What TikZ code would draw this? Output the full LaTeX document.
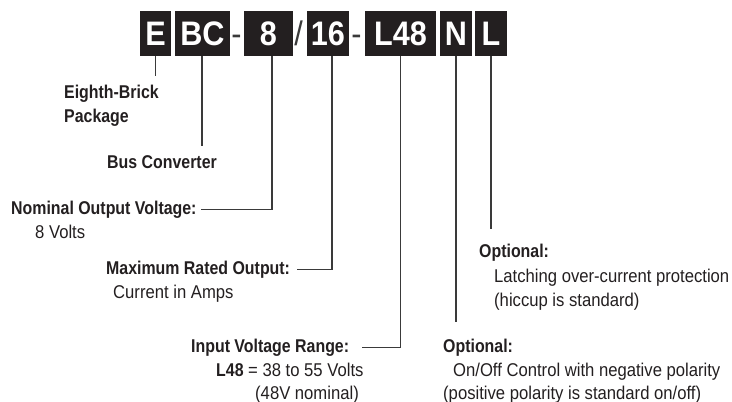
\documentclass[tikz,border=0pt]{standalone}
\usepackage{fontspec}
\setmainfont{Liberation Sans}
\newfontfamily\headfont[FakeStretch=0.86]{Liberation Sans}
\newfontfamily\bodyfont[FakeStretch=0.9]{Liberation Sans}
\newfontfamily\codefont[FakeStretch=0.9]{Liberation Sans}
\definecolor{ink}{HTML}{231F20}
\definecolor{leadgray}{HTML}{3A3A3A}

\begin{document}
\begin{tikzpicture}[x=1pt, y=-1pt,
    codebox/.style={fill=ink, text=white, minimum height=45pt, inner sep=0,
      font=\codefont\bfseries\fontsize{34}{36}\selectfont},
    sepmark/.style={anchor=base, inner sep=0, text=leadgray,
      font=\codefont\fontsize{34}{36}\selectfont},
    headtext/.style={anchor=base west, inner sep=0, text=ink,
      font=\headfont\bfseries\fontsize{18.5}{24}\selectfont},
    bodytext/.style={anchor=base west, inner sep=0, text=ink,
      font=\bodyfont\fontsize{18.5}{24}\selectfont},
    lead/.style={draw=leadgray, line width=1.2pt}]

  \useasboundingbox (0,0) rectangle (732,402);

  % Part number boxes
  \node[codebox, minimum width=31pt] (boxE)   at (155.5,33.5) {E};
  \node[codebox, minimum width=55pt] (boxBC)  at (202.5,33.5) {BC};
  \node[codebox, minimum width=49pt] (box8)   at (268.5,33.5) {8};
  \node[codebox, minimum width=42pt] (box16)  at (328,33.5)   {16};
  \node[codebox, minimum width=71pt] (boxL48) at (400.5,33.5) {L48};
  \node[codebox, minimum width=32pt] (boxN)   at (456,33.5)   {N};
  \node[codebox, minimum width=32pt] (boxL)   at (491,33.5)   {L};

  % Separators
  \node[sepmark] (sepA) at (236.5,45.7) {-};
  \node[sepmark] (sepB) at (298.5,45.7) {/};
  \node[sepmark] (sepC) at (356.5,45.7) {-};

  % Labels, left side
  \node[headtext] (brickA) at (64,98)  {Eighth-Brick};
  \node[headtext] (brickB) at (64,122) {Package};
  \node[headtext] (busA)   at (107,168) {Bus Converter};
  \node[headtext] (nomA)   at (11,214) {Nominal Output Voltage:};
  \node[bodytext] (nomB)   at (35,238) {8 Volts};
  \node[headtext] (maxA)   at (106,274) {Maximum Rated Output:};
  \node[bodytext] (maxB)   at (113,298) {Current in Amps};
  \node[headtext] (inA)    at (191,352) {Input Voltage Range:};
  \node[bodytext] (inB)    at (216,376) {{\headfont\bfseries L48} = 38 to 55 Volts};
  \node[bodytext] (inC)    at (255,399) {(48V nominal)};

  % Labels, right side
  \node[headtext] (optLA) at (479,257) {Optional:};
  \node[bodytext] (optLB) at (494,282) {Latching over-current protection};
  \node[bodytext] (optLC) at (494,306) {(hiccup is standard)};
  \node[headtext] (optNA) at (443,352) {Optional:};
  \node[bodytext] (optNB) at (453,376) {On/Off Control with negative polarity};
  \node[bodytext] (optNC) at (443,399) {(positive polarity is standard on/off)};

  % Leader lines
  \draw[lead, shorten >=8.7pt] (boxE.south) -- (boxE.south |- brickA.north);
  \draw[lead, shorten >=8.7pt] ([xshift=-0.5pt]boxBC.south) -- ([xshift=-0.5pt]boxBC.south |- busA.north);
  \draw[lead] ([xshift=3.5pt]box8.south) |- ([xshift=4pt]nomA.east);
  \draw[lead] ([xshift=4pt]box16.south) |- ([xshift=7pt]maxA.east);
  \draw[lead] (boxL48.south) |- ([xshift=13pt]inA.east);
  \draw[lead, shorten >=16.7pt] (boxN.south) -- (boxN.south |- optNA.north);
  \draw[lead, shorten >=14.7pt] (boxL.south) -- (boxL.south |- optLA.north);

\end{tikzpicture}
\end{document}
